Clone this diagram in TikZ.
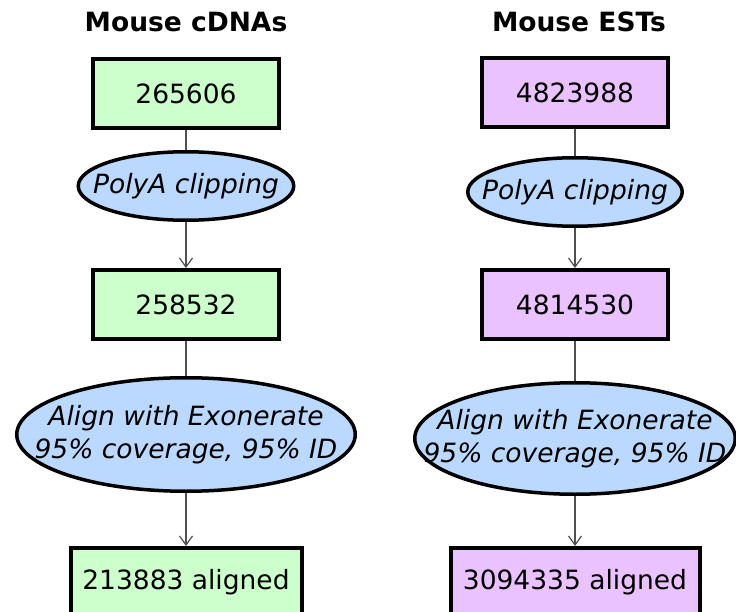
\documentclass[tikz,border=0pt]{standalone}
\usepackage{fontspec}
\setmainfont{DejaVu Sans}
\usetikzlibrary{positioning, arrows.meta, shapes.geometric}
\definecolor{cdnafill}{RGB}{204,255,204}
\definecolor{estfill}{RGB}{233,194,255}
\definecolor{stepfill}{RGB}{187,217,255}
\definecolor{linkgray}{RGB}{80,80,80}

\begin{document}
\begin{tikzpicture}[x=1pt,y=-1pt,font=\fontsize{26.5}{33}\selectfont,
    count/.style={draw,line width=4pt,minimum width=186pt,minimum height=69pt,inner sep=0pt},
    cdna/.style={count,fill=cdnafill},
    est/.style={count,fill=estfill},
    filt/.style={ellipse,draw,line width=3.5pt,fill=stepfill,inner sep=0pt},
    filttext/.style={font=\fontsize{26.5}{33}\selectfont\itshape,align=center,inner sep=0pt},
    title/.style={font=\fontsize{26.5}{33}\selectfont\bfseries},
    link/.style={draw=linkgray,line width=1.2pt},
    flow/.style={link,-{Straight Barb[length=9pt,width=13pt,line width=1.2pt]}}]
      \path[use as bounding box,clip] (0,0) rectangle (736,612);
      % cDNA column
      \node[title] (cdnahead) at (186,22) {Mouse cDNAs};
      \node[cdna] (cdna1) at (186,93.5) {265606};
      \node[filt,minimum width=215.5pt,minimum height=68.5pt,below=20pt of cdna1,
        label={[filttext]center:PolyA clipping}] (cdnaclip) {};
      \node[cdna,below=46pt of cdnaclip] (cdna2) {258532};
      \node[filt,minimum width=338.5pt,minimum height=113.5pt,below=35pt of cdna2,
        label={[filttext]center:{Align with Exonerate\\95\% coverage, 95\% ID}}] (cdnaalign) {};
      \node[cdna,minimum width=231pt,below=53pt of cdnaalign] (cdna3) {213883 aligned};
      % EST column
      \node[title] (esthead) at (579,22) {Mouse ESTs};
      \node[est] (est1) at (575,92.5) {4823988};
      \node[filt,minimum width=214.5pt,minimum height=68.5pt,below=27pt of est1,
        label={[filttext]center:PolyA clipping}] (estclip) {};
      \node[est,below=40pt of estclip] (est2) {4814530};
      \node[filt,minimum width=320.5pt,minimum height=111.5pt,below=40pt of est2,
        label={[filttext]center:{Align with Exonerate\\95\% coverage, 95\% ID}}] (estalign) {};
      \node[est,minimum width=249pt,below=50pt of estalign] (est3) {3094335 aligned};
      \path (cdna1) edge[link] (cdnaclip)
        (cdnaclip) edge[flow] (cdna2)
        (cdna2) edge[link] (cdnaalign)
        (cdnaalign) edge[flow] (cdna3)
        (est1) edge[link] (estclip)
        (estclip) edge[flow] (est2)
        (est2) edge[link] (estalign)
        (estalign) edge[flow] (est3);
    \end{tikzpicture}
\end{document}
